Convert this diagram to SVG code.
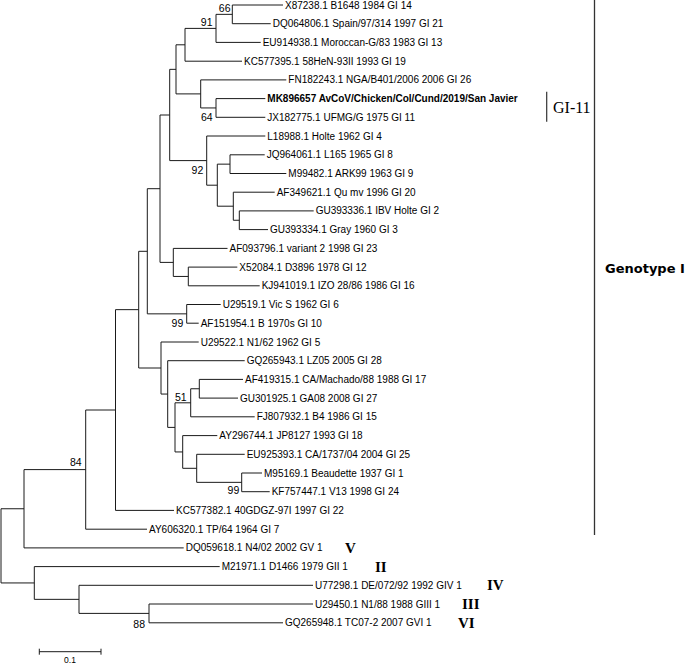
<svg xmlns="http://www.w3.org/2000/svg" width="685" height="664" viewBox="0 0 685 664">
<style>
.e{fill:none;stroke:#1a1a1a;stroke-width:1}
.lf{font-family:"Liberation Sans",Arial,sans-serif;font-size:10px;fill:#000}
.b{font-weight:bold}
.bs{font-family:"Liberation Sans",Arial,sans-serif;font-size:10.5px;fill:#000;text-anchor:end}
.rn{font-family:"Liberation Serif","Times New Roman",serif;font-size:15px;font-weight:bold;fill:#000}
</style>
<rect width="685" height="664" fill="#fff"/>
<g id="connectors">
<path class="e" d="M283 5 H232.3 V23.7 H270.7"/>
<path class="e" d="M232.3 14.35 H216 V42.4 H260.7"/>
<path class="e" d="M216 28.4 H185 V61.2 H242"/>
<path class="e" d="M265.3 98.6 H216 V117.3 H265.3"/>
<path class="e" d="M286.3 79.9 H200.7 V107.95 H216"/>
<path class="e" d="M185 44.8 H176 V93.9 H200.7"/>
<path class="e" d="M264.7 154.8 H230 V173.5 H286.3"/>
<path class="e" d="M313.7 210.9 H239.3 V229.6 H268"/>
<path class="e" d="M274.7 192.2 H233.3 V220.25 H239.3"/>
<path class="e" d="M230 164.15 H217.3 V206.2 H233.3"/>
<path class="e" d="M265.3 136 H206.7 V185.2 H217.3"/>
<path class="e" d="M176 69.35 H169.7 V160.6 H206.7"/>
<path class="e" d="M237.3 267.1 H188.3 V285.8 H259.7"/>
<path class="e" d="M227.5 248.4 H173.3 V276.45 H188.3"/>
<path class="e" d="M169.7 115 H160 V262.4 H173.3"/>
<path class="e" d="M220.7 304.5 H186.7 V323.2 H198.7"/>
<path class="e" d="M160 188.7 H147.3 V313.85 H186.7"/>
<path class="e" d="M243 379.4 H199.3 V398.1 H238"/>
<path class="e" d="M199.3 388.75 H190.7 V416.8 H254.7"/>
<path class="e" d="M262 473 H241.7 V491.7 H269.7"/>
<path class="e" d="M244.7 454.3 H196.7 V482.35 H241.7"/>
<path class="e" d="M217.3 435.6 H182.7 V468.3 H196.7"/>
<path class="e" d="M190.7 402.8 H175 V451.95 H182.7"/>
<path class="e" d="M244.7 360.7 H167.7 V427.4 H175"/>
<path class="e" d="M198.7 342 H161 V394.05 H167.7"/>
<path class="e" d="M147.3 251.3 H138.7 V368 H161"/>
<path class="e" d="M138.7 309.65 H115.5 V510.4 H174"/>
<path class="e" d="M115.5 410 H85.7 V529.2 H147"/>
<path class="e" d="M85.7 469.6 H24 V547.9 H183.7"/>
<path class="e" d="M313 604 H149 V622.8 H283"/>
<path class="e" d="M313 585.3 H79 V613.4 H149"/>
<path class="e" d="M219.7 566.6 H34.3 V599.35 H79"/>
<path class="e" d="M24 508.75 H1 V582.95 H34.3"/>
</g>
<g id="leaves">
<text class="lf" x="285" y="8.5">X87238.1 B1648 1984 GI 14</text>
<text class="lf" x="272.7" y="27.2">DQ064806.1 Spain/97/314 1997 GI 21</text>
<text class="lf" x="262.7" y="45.9">EU914938.1 Moroccan-G/83 1983 GI 13</text>
<text class="lf" x="244" y="64.7">KC577395.1 58HeN-93II 1993 GI 19</text>
<text class="lf" x="288.3" y="83.4">FN182243.1 NGA/B401/2006 2006 GI 26</text>
<text class="lf b" x="267.3" y="102.1">MK896657 AvCoV/Chicken/Col/Cund/2019/San Javier</text>
<text class="lf" x="267.3" y="120.8">JX182775.1 UFMG/G 1975 GI 11</text>
<text class="lf" x="267.3" y="139.5">L18988.1 Holte 1962 GI 4</text>
<text class="lf" x="266.7" y="158.3">JQ964061.1 L165 1965 GI 8</text>
<text class="lf" x="288.3" y="177">M99482.1 ARK99 1963 GI 9</text>
<text class="lf" x="276.7" y="195.7">AF349621.1 Qu mv 1996 GI 20</text>
<text class="lf" x="315.7" y="214.4">GU393336.1 IBV Holte GI 2</text>
<text class="lf" x="270" y="233.1">GU393334.1 Gray 1960 GI 3</text>
<text class="lf" x="229.5" y="251.9">AF093796.1 variant 2 1998 GI 23</text>
<text class="lf" x="239.3" y="270.6">X52084.1 D3896 1978 GI 12</text>
<text class="lf" x="261.7" y="289.3">KJ941019.1 IZO 28/86 1986 GI 16</text>
<text class="lf" x="222.7" y="308">U29519.1 Vic S 1962 GI 6</text>
<text class="lf" x="200.7" y="326.7">AF151954.1 B 1970s GI 10</text>
<text class="lf" x="200.7" y="345.5">U29522.1 N1/62 1962 GI 5</text>
<text class="lf" x="246.7" y="364.2">GQ265943.1 LZ05 2005 GI 28</text>
<text class="lf" x="245" y="382.9">AF419315.1 CA/Machado/88 1988 GI 17</text>
<text class="lf" x="240" y="401.6">GU301925.1 GA08 2008 GI 27</text>
<text class="lf" x="256.7" y="420.3">FJ807932.1 B4 1986 GI 15</text>
<text class="lf" x="219.3" y="439.1">AY296744.1 JP8127 1993 GI 18</text>
<text class="lf" x="246.7" y="457.8">EU925393.1 CA/1737/04 2004 GI 25</text>
<text class="lf" x="264" y="476.5">M95169.1 Beaudette 1937 GI 1</text>
<text class="lf" x="271.7" y="495.2">KF757447.1 V13 1998 GI 24</text>
<text class="lf" x="176" y="513.9">KC577382.1 40GDGZ-97I 1997 GI 22</text>
<text class="lf" x="149" y="532.7">AY606320.1 TP/64 1964 GI 7</text>
<text class="lf" x="185.7" y="551.4">DQ059618.1 N4/02 2002 GV 1</text>
<text class="lf" x="221.7" y="570.1">M21971.1 D1466 1979 GII 1</text>
<text class="lf" x="315" y="588.8">U77298.1 DE/072/92 1992 GIV 1</text>
<text class="lf" x="315" y="607.5">U29450.1 N1/88 1988 GIII 1</text>
<text class="lf" x="285" y="626.3">GQ265948.1 TC07-2 2007 GVI 1</text>
</g>
<g id="bootstrap">
<text class="bs" x="230.5" y="11.5">66</text>
<text class="bs" x="212.5" y="25.5">91</text>
<text class="bs" x="212.7" y="121.3">64</text>
<text class="bs" x="203.3" y="174">92</text>
<text class="bs" x="183.3" y="327.3">99</text>
<text class="bs" x="186.7" y="400.5">51</text>
<text class="bs" x="239.3" y="494">99</text>
<text class="bs" x="81.7" y="466">84</text>
<text class="bs" x="145" y="627.5">88</text>
</g>
<g id="clade-GI-11">
<line x1="546.7" y1="91.7" x2="546.7" y2="121.7" stroke="#333" stroke-width="1.2"/>
<text x="553" y="112.5" font-family="Liberation Serif,Times New Roman,serif" font-size="16" fill="#000">GI-11</text>
</g>
<g id="clade-genotype-I">
<line x1="594.5" y1="0" x2="594.5" y2="535" stroke="#333" stroke-width="1.3"/>
<text x="605" y="273" font-family="DejaVu Sans,Verdana,sans-serif" font-size="13" font-weight="bold" fill="#000">Genotype I</text>
</g>
<g id="genotype-labels">
<text class="rn" x="345" y="553">V</text>
<text class="rn" x="375" y="571.6">II</text>
<text class="rn" x="487" y="590.3">IV</text>
<text class="rn" x="462" y="609">III</text>
<text class="rn" x="458" y="627.8">VI</text>
</g>
<g id="scale-bar">
<path class="e" d="M39.3 651.7 H101 M39.3 648.7 V654.7 M101 648.7 V654.7"/>
<text x="70" y="663" font-family="Liberation Sans,Arial,sans-serif" font-size="8.5" text-anchor="middle" fill="#000">0.1</text>
</g>
</svg>
